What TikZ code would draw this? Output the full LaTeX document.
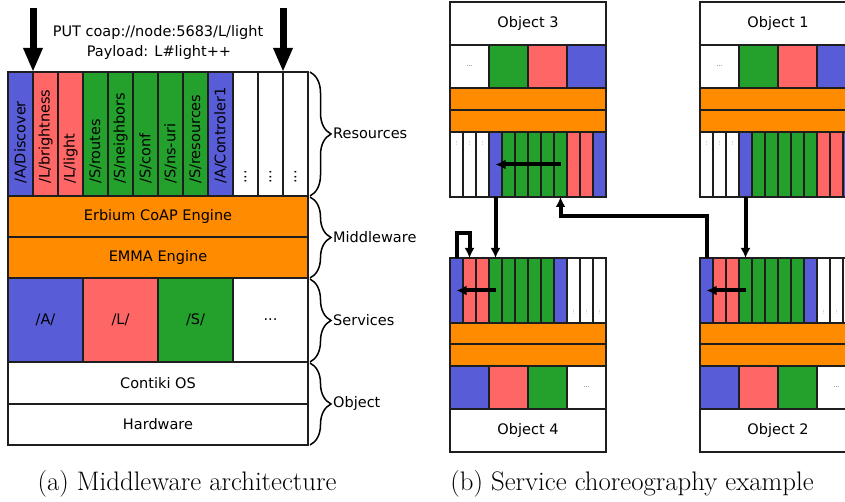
\documentclass[tikz,border=0pt]{standalone}
\usepackage{fontspec}
\newfontfamily\dv{DejaVu Sans}
\usetikzlibrary{arrows.meta,decorations.pathreplacing}
\definecolor{cblue}{RGB}{88,92,214}
\definecolor{cred}{RGB}{255,102,102}
\definecolor{cgreen}{RGB}{36,160,44}
\definecolor{corange}{RGB}{255,140,0}
\definecolor{cline}{RGB}{30,30,30}
\tikzset{
  box/.style={draw=cline,line width=1.6pt,inner sep=0pt,outer sep=0pt},
  rtext/.style={rotate=90,anchor=west,inner sep=0pt},
  tinydots/.style={rotate=90,inner sep=0pt,text=gray,font=\dv\fontsize{5}{5}\selectfont},
  tinytext/.style={inner sep=0pt,text=darkgray,font=\dv\fontsize{6}{6}\selectfont},
  bigarrow/.style={line width=7pt,-{Triangle[length=24pt,width=18pt]}},
  conn/.style={line width=4pt,-{Latex[length=10pt,width=10pt]}},
  brc/.style={decorate,decoration={brace,amplitude=21pt},line width=1.5pt},
  lbl/.style={anchor=west,inner sep=0pt},
  captext/.style={anchor=base,inner sep=0pt,font=\rmfamily\fontsize{26.8}{30}\selectfont}
}
\newcommand\mycell[7]{%
  \pgfmathsetmacro\mcw{#4-#2}\pgfmathsetmacro\mch{#5-#3}%
  \pgfmathsetmacro\mcx{(#2+#4)/2}\pgfmathsetmacro\mcy{(#3+#5)/2}%
  \node[box,fill=#6,minimum width=\mcw pt,minimum height=\mch pt] (#1) at (\mcx,\mcy) {#7};}
\newcommand\objtop[3]{%
  \pgfmathsetmacro\xb{#2+156}%
  \mycell{#1t}{#2}{2}{\xb}{45}{white}{#3}
  \foreach \c [count=\i] in {white,cgreen,cred,cblue}{%
    \pgfmathsetmacro\xa{#2+39*(\i-1)}\pgfmathsetmacro\xc{\xa+39}%
    \mycell{#1s\i}{\xa}{45}{\xc}{88}{\c}{}}
  \mycell{#1m1}{#2}{88}{\xb}{110}{corange}{}
  \mycell{#1m2}{#2}{110}{\xb}{132}{corange}{}
  \foreach \c [count=\i] in {white,white,white,cblue,cgreen,cgreen,cgreen,cgreen,cgreen,cred,cred,cblue}{%
    \pgfmathsetmacro\xa{#2+13*(\i-1)}\pgfmathsetmacro\xc{\xa+13}%
    \mycell{#1r\i}{\xa}{132}{\xc}{197}{\c}{}}
  \foreach \i in {1,2,3}{\node[tinydots] (#1d\i) at ([yshift=-11pt]#1r\i.north) {...};}
  \node[tinytext] (#1sd) at (#1s1) {...};
}
\newcommand\objbot[3]{%
  \pgfmathsetmacro\xb{#2+156}%
  \foreach \c [count=\i] in {cblue,cred,cred,cgreen,cgreen,cgreen,cgreen,cgreen,cblue,white,white,white}{%
    \pgfmathsetmacro\xa{#2+13*(\i-1)}\pgfmathsetmacro\xc{\xa+13}%
    \mycell{#1r\i}{\xa}{258}{\xc}{323}{\c}{}}
  \foreach \i in {10,11,12}{\node[tinydots] (#1d\i) at ([yshift=11pt]#1r\i.south) {...};}
  \mycell{#1m1}{#2}{323}{\xb}{344}{corange}{}
  \mycell{#1m2}{#2}{344}{\xb}{366}{corange}{}
  \foreach \c [count=\i] in {cblue,cred,cgreen,white}{%
    \pgfmathsetmacro\xa{#2+39*(\i-1)}\pgfmathsetmacro\xc{\xa+39}%
    \mycell{#1s\i}{\xa}{366}{\xc}{409}{\c}{}}
  \node[tinytext] (#1sd) at (#1s4) {...};
  \mycell{#1t}{#2}{409}{\xb}{452}{white}{#3}
}
\begin{document}
\begin{tikzpicture}[x=1pt,y=-1pt,font=\dv\fontsize{14.5}{17}\selectfont]
\clip (0,0) rectangle (845,502);
\fill[white] (0,0) rectangle (845,502);
% ---------- (a) middleware architecture ----------
\mycell{r1}{8}{72}{33}{196}{cblue}{}
\mycell{r2}{33}{72}{58}{196}{cred}{}
\mycell{r3}{58}{72}{83}{196}{cred}{}
\mycell{r4}{83}{72}{108}{196}{cgreen}{}
\mycell{r5}{108}{72}{133}{196}{cgreen}{}
\mycell{r6}{133}{72}{158}{196}{cgreen}{}
\mycell{r7}{158}{72}{183}{196}{cgreen}{}
\mycell{r8}{183}{72}{208}{196}{cgreen}{}
\mycell{r9}{208}{72}{233}{196}{cblue}{}
\mycell{r10}{233}{72}{258}{196}{white}{}
\mycell{r11}{258}{72}{283}{196}{white}{}
\mycell{r12}{283}{72}{308}{196}{white}{}
\node[rtext] (t1) at (20.5,184) {/A/Discover};
\node[rtext] (t2) at (45.5,184) {/L/brightness};
\node[rtext] (t3) at (70.5,184) {/L/light};
\node[rtext] (t4) at (95.5,184) {/S/routes};
\node[rtext] (t5) at (120.5,184) {/S/neighbors};
\node[rtext] (t6) at (145.5,184) {/S/conf};
\node[rtext] (t7) at (170.5,184) {/S/ns-uri};
\node[rtext] (t8) at (195.5,184) {/S/resources};
\node[rtext] (t9) at (220.5,184) {/A/Controler1};
\node[rtext] (t10) at (245.5,184) {...};
\node[rtext] (t11) at (270.5,184) {...};
\node[rtext] (t12) at (295.5,184) {...};
\mycell{erb}{8}{196}{308}{237}{corange}{Erbium CoAP Engine}
\mycell{emma}{8}{237}{308}{278}{corange}{EMMA Engine}
\mycell{sa}{8}{278}{83}{362}{cblue}{/A/}
\mycell{sl}{83}{278}{158}{362}{cred}{/L/}
\mycell{ss}{158}{278}{233}{362}{cgreen}{/S/}
\mycell{sx}{233}{278}{308}{362}{white}{...}
\mycell{os}{8}{362}{308}{404}{white}{Contiki OS}
\mycell{hw}{8}{404}{308}{445}{white}{Hardware}
\coordinate (a1) at (33,8);
\coordinate (a2) at (283,8);
\draw[bigarrow] (a1) -- (r1.north east);
\draw[bigarrow] (a2) -- (r11.north east);
\node (put) at (158,33) {PUT coap://node:5683/L/light};
\node (pay) at (159,53) {Payload: L\#light++};
\draw[brc] (310,72) -- (310,196);
\draw[brc] (310,197) -- (310,278);
\draw[brc] (310,279) -- (310,362);
\draw[brc] (310,363) -- (310,445);
\node[lbl] (lres) at (333,133) {Resources};
\node[lbl] (lmid) at (333,237) {Middleware};
\node[lbl] (lser) at (333,320) {Services};
\node[lbl] (lobj) at (333,403) {Object};
\node[captext] (capa) at (187,490) {(a) Middleware architecture};
% ---------- (b) service choreography ----------
\objtop{o3}{450}{Object 3}
\objtop{o1}{700}{Object 1}
\objbot{o4}{450}{Object 4}
\objbot{o2}{700}{Object 2}
\draw[conn] (o3r9.center) -- (o3r4.center);
\draw[conn] (o4r4.center) -- (o4r1.center);
\draw[conn] (o2r4.center) -- (o2r1.center);
\draw[conn] (o3r4.south) -- (o4r4.north);
\draw[conn] (o4r1.north) -- ++(0,-25) -| (o4r2.north);
\draw[conn] (o2r1.north) -- ++(0,-42) -| (o3r9.south);
\draw[conn] (o1r4.south) -- (o2r4.north);
\node[captext] (capb) at (632,490) {(b) Service choreography example};
\end{tikzpicture}
\end{document}
